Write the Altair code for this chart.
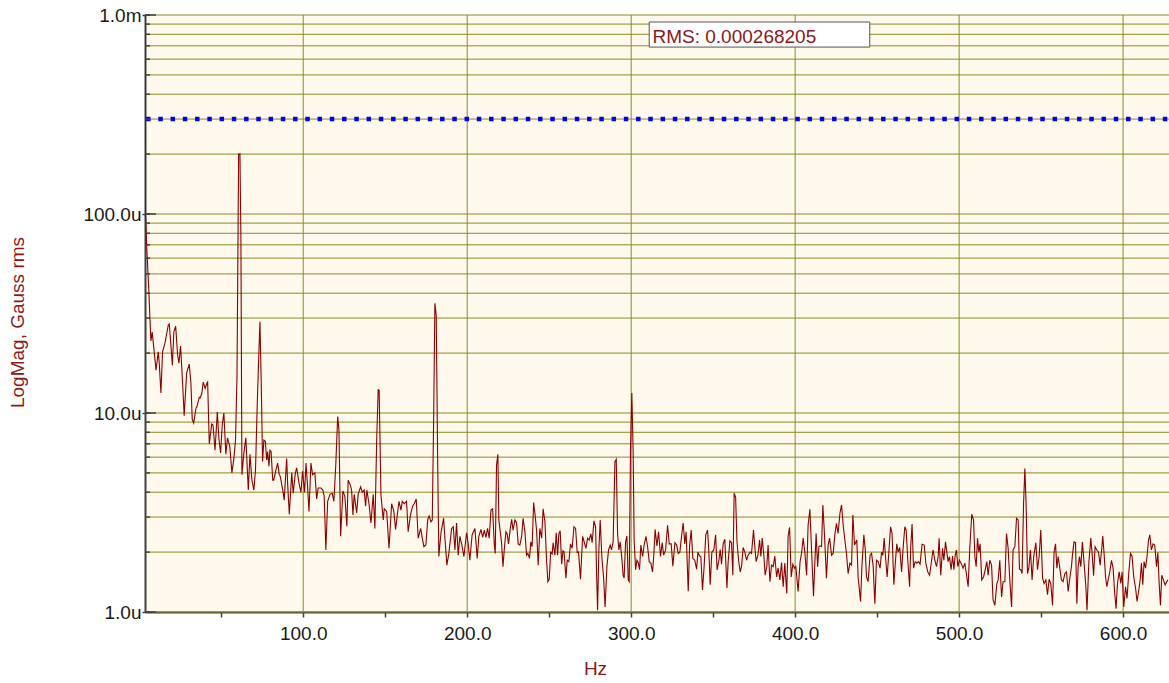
import altair as alt
import pandas as pd

# Magnetic field spectrum, in bands: frequency (Hz) and magnitude (micro-gauss rms)
band1_hz = [3.0, 3.7, 4.5, 5.9, 6.5, 7.1, 7.9, 9.6, 10.2, 11.6, 12.2, 13.2, 14.2, 15.7, 17.7, 18.3,
            20.2, 21.1, 22.2, 23.4, 24.2, 25.2, 26.2, 27.4, 28.9, 30.5, 31.5, 32.3, 33.2, 34.6, 35.1,
            36.6, 37.2, 38.2, 39.0, 40.2, 41.2, 41.7, 42.7, 44.2, 45.0, 46.2, 47.6, 48.6, 49.6, 50.6,
            51.6, 52.8, 53.8, 55.2, 56.5, 57.7, 58.7, 59.6, 60.6, 61.4, 62.0, 62.6, 63.8, 65.0, 66.5,
            67.5, 68.7, 69.9, 70.9, 71.9, 72.8, 73.6, 74.4, 75.2, 76.0, 76.9, 77.7, 78.3, 79.1, 79.7,
            80.4, 81.4, 82.0, 83.4, 84.4, 85.4, 86.0, 87.5, 88.4, 89.9, 90.5, 91.5, 93.0, 93.9, 95.2,
            96.0, 97.6, 98.6, 99.6, 100.8, 101.7, 102.7, 103.5, 104.7, 105.7]
band1_ug = [5000, 105, 70, 40, 30, 23, 25.5, 18.5, 16.4, 20.3, 17.8, 12.6, 20.3, 22.5, 27.7, 28,
            17.4, 25.6, 27.3, 19.5, 17.8, 21.7, 15.3, 9.7, 15.9, 17.6, 14.1, 9.3, 8.9, 10.6, 10.7,
            12.0, 11.9, 12.6, 14.3, 13.3, 14.1, 14.3, 7.0, 8.8, 8.7, 6.5, 10.1, 7.4, 6.3, 8.7,
            10.0, 6.2, 7.5, 6.8, 5.0, 5.9, 7.3, 15.2, 200, 201, 74, 4.9, 6.3, 7.5, 4.1,
            6.2, 4.6, 4.1, 5.2, 10.7, 18.4, 28.7, 14.0, 5.7, 7.3, 7.2, 5.8, 6.4, 5.4, 6.5,
            6.4, 4.6, 4.6, 5.2, 5.6, 4.9, 4.8, 4.1, 3.65, 5.9, 4.4, 3.1, 5.0, 3.95, 5.0,
            5.3, 4.35, 4.0, 5.1, 4.0, 5.6, 4.2, 3.2, 5.6, 4.9]

band2_hz = [107.1, 108.2, 109.1, 110.8, 112.0, 112.8, 113.8, 114.9, 116.3, 117.7, 118.7, 119.9, 121.0,
            121.8, 122.8, 124.2, 125.4, 126.6, 127.4, 128.7, 129.5, 130.3, 131.1, 132.6, 133.5, 135.0,
            136.0, 137.2, 138.0, 138.8, 140.1, 141.3, 142.7, 143.7, 144.8, 145.7, 146.3, 147.4, 148.8,
            149.4, 150.9, 152.3, 153.9, 155.3, 156.3, 157.3, 158.4, 159.6, 160.4, 161.6, 163.0, 164.0,
            165.5, 166.7, 167.7, 168.9, 170.1, 171.6, 172.4, 173.6, 174.8, 175.9, 176.8, 177.9, 178.7,
            179.5, 180.3, 181.1, 182.0, 182.7, 184.0, 185.6, 186.4, 187.6, 188.8, 190.5, 191.5, 192.5,
            193.5, 194.5, 195.5, 196.6, 198.0, 199.6, 200.6, 201.6, 203.0, 204.7, 206.1, 207.1, 208.4,
            209.4, 210.4, 211.4, 212.4, 213.4, 214.5, 215.5, 216.5]
band2_ug = [5.0, 3.7, 4.2, 4.2, 4.1, 3.8, 2.05, 3.6, 3.9, 3.95, 3.6, 5.6, 9.6,
            8.2, 2.4, 4.06, 3.8, 2.7, 4.6, 4.35, 4.1, 3.07, 3.9, 3.15, 3.9, 4.26,
            4.0, 4.1, 3.4, 4.1, 3.5, 2.8, 3.9, 2.63, 7.3, 13.1, 13.0, 3.87, 2.9,
            3.3, 3.2, 2.09, 3.5, 3.2, 2.6, 3.04, 3.6, 3.25, 3.6, 3.5, 3.6, 2.53,
            3.1, 3.4, 3.5, 3.7, 2.35, 2.63, 2.4, 2.13, 2.17, 2.9, 3.04, 2.84, 2.9,
            8.9, 35.6, 31, 5.6, 1.9, 2.5, 2.96, 2.35, 1.72, 1.97, 2.63, 2.68, 2.05,
            2.8, 1.93, 2.4, 2.2, 1.9, 2.5, 2.2, 1.82, 2.44, 2.63, 1.86, 2.4, 2.6,
            2.37, 2.58, 2.37, 2.63, 2.35, 3.25, 3.3, 2.2]

band3_hz = [217.1, 217.9, 218.7, 219.3, 220.4, 221.0, 221.8, 222.6, 223.6, 224.4, 225.2, 226.2, 227.1,
            228.0, 229.1, 230.1, 231.1, 232.1, 233.2, 234.1, 235.2, 236.2, 237.0, 238.0, 238.8, 239.6,
            240.5, 241.3, 242.3, 243.3, 244.3, 245.4, 246.3, 247.4, 248.4, 249.2, 250.0, 250.9, 251.8,
            252.4, 253.5, 254.3, 255.1, 255.9, 256.7, 257.6, 258.4, 259.1, 260.2, 261.0, 262.0, 263.0,
            264.0, 265.1, 266.1, 267.1, 267.9, 269.1, 270.4, 271.3, 272.4, 273.4, 274.4, 275.4, 276.2,
            277.3, 278.3, 278.9, 279.5, 280.3, 281.1, 282.1, 283.2, 284.1, 285.2, 286.2, 287.2, 288.0,
            289.0, 290.1, 290.9, 291.7, 292.5, 293.3, 294.3, 295.1, 295.7, 296.6, 297.4, 298.2, 298.8,
            299.6, 300.4, 301.2, 301.8, 302.7, 303.5, 304.3, 305.1, 305.9, 307.0, 307.9, 309.0, 310.0,
            311.0, 312.0, 313.0, 313.8, 314.6, 315.7, 316.7, 317.9, 318.9, 319.8, 321.0, 322.2, 323.2]
band3_ug = [1.97, 5.5, 6.2, 2.9, 2.44, 2.2, 1.69, 2.05, 2.53, 2.47, 2.2, 2.6, 2.92,
            2.58, 2.9, 2.8, 2.2, 2.17, 2.4, 2.96, 2.53, 1.93, 1.97, 1.86, 2.25, 2.13,
            3.55, 3.13, 2.58, 1.72, 2.63, 2.35, 3.3, 2.84, 1.82, 1.42, 1.46, 2.0, 1.96,
            2.23, 1.93, 2.5, 1.93, 2.47, 2.56, 1.74, 2.03, 2.0, 1.48, 1.82, 1.79, 2.2,
            2.09, 2.68, 2.63, 1.99, 2.0, 1.46, 2.4, 2.25, 2.09, 2.35, 2.3, 2.47, 2.23,
            2.87, 2.68, 1.56, 1.02, 2.05, 2.9, 1.9, 1.48, 1.06, 1.69, 2.05, 2.17, 2.05,
            2.25, 5.7, 5.85, 2.47, 2.05, 2.25, 1.86, 1.53, 1.48, 2.25, 2.41, 1.45, 1.42,
            6.6, 12.6, 6.4, 2.3, 1.63, 1.82, 1.77, 1.63, 2.17, 1.9, 2.17, 2.4, 2.13,
            1.79, 1.76, 1.59, 1.93, 2.6, 2.15, 2.53, 1.9, 2.23, 1.93, 2.05, 2.73, 2.2]

band4_hz = [324.4, 325.4, 326.7, 327.7, 328.7, 329.7, 330.7, 331.7, 332.7, 333.5, 334.8, 335.6, 336.6,
            337.6, 338.8, 339.9, 340.7, 341.7, 342.5, 343.5, 344.5, 345.5, 346.6, 347.4, 348.2, 349.2,
            350.4, 351.5, 352.4, 353.5, 354.3, 355.1, 356.1, 357.1, 358.4, 359.1, 360.2, 361.2, 362.0,
            362.8, 363.7, 364.5, 365.5, 366.5, 367.3, 368.3, 369.3, 370.4, 371.3, 372.6, 373.4, 374.6,
            375.4, 376.2, 377.3, 378.3, 379.1, 379.9, 380.9, 381.7, 382.7, 383.5, 384.6, 385.6, 386.6,
            387.6, 388.7, 389.6, 390.7, 391.7, 392.7, 393.7, 394.9, 395.7, 396.6, 397.6, 398.6, 399.6,
            400.4, 401.8, 403.0, 403.9, 404.9, 405.9, 407.0, 407.9, 409.0, 410.0, 411.2, 412.0, 412.8,
            413.7, 414.5, 415.2, 416.1, 416.9, 417.9, 419.1, 420.1, 421.0, 422.2, 423.2, 424.2, 425.2,
            426.2, 427.3, 428.3, 429.3, 430.3]
band4_ug = [2.2, 1.7, 2.23, 2.17, 1.97, 2.0, 2.4, 2.8, 2.2, 2.53, 1.27, 2.13, 2.58,
            1.86, 1.82, 1.64, 2.0, 1.91, 1.9, 1.29, 1.7, 2.44, 2.58, 1.97, 1.37, 2.0,
            2.05, 2.44, 1.63, 1.82, 2.06, 1.74, 2.2, 2.32, 1.32, 1.76, 2.28, 2.23, 1.53,
            3.95, 3.77, 2.28, 1.82, 1.59, 1.69, 2.11, 2.0, 1.82, 1.93, 2.0, 1.97, 2.58,
            2.13, 1.79, 1.93, 2.3, 1.9, 2.35, 1.93, 1.53, 1.69, 2.17, 1.42, 1.72, 1.69,
            1.91, 1.5, 1.66, 1.45, 1.77, 1.34, 1.76, 1.24, 2.4, 2.66, 1.5, 1.74, 1.66,
            1.69, 1.27, 1.79, 1.97, 2.35, 2.0, 1.53, 2.73, 3.28, 2.05, 1.2, 1.76, 2.48,
            1.69, 2.13, 2.15, 2.13, 3.45, 2.44, 1.48, 2.17, 2.35, 1.93, 1.97, 2.44, 2.79,
            2.48, 3.13, 3.45, 2.73, 2.3]

band5_hz = [431.3, 432.3, 433.4, 434.4, 435.2, 436.2, 437.6, 438.4, 439.9, 440.7, 441.9, 442.7, 443.5,
            444.5, 445.7, 446.6, 447.6, 448.6, 449.6, 450.6, 451.8, 452.7, 453.5, 454.3, 455.1, 456.1,
            457.1, 458.2, 459.1, 460.2, 461.2, 462.0, 462.8, 463.8, 464.9, 465.9, 466.9, 467.7, 468.7,
            469.8, 470.5, 471.3, 472.2, 473.2, 474.2, 475.2, 476.2, 477.4, 478.7, 479.7, 480.9, 482.0,
            483.2, 484.1, 485.2, 486.2, 487.2, 487.8, 488.8, 489.9, 490.7, 491.7, 492.5, 493.3, 494.1,
            495.1, 496.0, 496.8, 497.6, 498.4, 499.2, 500.2, 501.2, 502.4, 503.5, 504.7, 505.5, 506.5,
            507.7, 508.8, 509.6, 510.4, 511.2, 512.0, 512.8, 513.8, 514.9, 515.9, 516.9, 517.7, 518.7,
            519.8, 520.7, 521.8, 523.0, 523.8, 524.8, 525.9, 526.8, 527.9, 528.9, 529.9, 530.9, 532.0,
            532.9, 534.0]
band5_ug = [1.97, 1.56, 1.76, 1.72, 3.07, 2.17, 2.3, 1.5, 1.13, 1.69, 2.44, 2.09, 1.5,
            1.42, 1.93, 1.97, 1.69, 1.1, 1.82, 1.79, 1.66, 2.0, 1.93, 2.35, 1.9, 1.5,
            1.97, 2.68, 2.48, 1.37, 1.82, 2.2, 2.0, 2.11, 1.59, 2.13, 2.68, 2.58, 1.82,
            1.34, 2.13, 2.77, 1.66, 1.79, 1.76, 1.79, 1.74, 2.19, 2.17, 1.76, 1.59, 1.53,
            1.82, 2.05, 1.82, 1.69, 1.9, 2.35, 1.53, 2.09, 1.82, 2.25, 2.0, 1.79, 1.9,
            1.63, 1.91, 1.63, 1.93, 2.05, 1.69, 1.82, 1.76, 1.66, 1.76, 1.5, 1.34, 2.09,
            3.1, 2.9, 1.9, 1.69, 2.35, 2.0, 2.2, 1.45, 1.5, 1.63, 1.79, 1.53, 1.82,
            1.72, 1.15, 1.08, 1.39, 1.45, 1.82, 1.19, 1.42, 1.42, 2.48, 2.09, 1.45, 1.06,
            2.05, 2.13]

band6_hz = [535.0, 536.0, 536.8, 537.6, 538.4, 539.3, 540.1, 540.9, 541.7, 542.5, 543.5, 544.5, 545.5,
            546.8, 547.8, 548.8, 549.8, 550.9, 551.8, 552.9, 553.9, 554.9, 555.9, 557.0, 557.9, 558.8,
            559.6, 560.4, 561.4, 562.4, 563.4, 564.5, 565.5, 566.5, 567.5, 568.5, 569.3, 570.1, 571.0,
            571.8, 572.6, 573.4, 574.2, 575.2, 576.2, 577.3, 578.0, 579.1, 580.3, 581.1, 582.0, 582.9,
            584.0, 585.0, 586.0, 587.0, 587.6, 588.4, 589.3, 590.1, 590.9, 591.9, 592.9, 593.9, 594.9,
            595.7, 596.6, 597.6, 598.6, 599.4, 600.4, 601.5, 602.4, 603.5, 604.5, 605.5, 606.5, 607.6,
            608.5, 609.6, 610.4, 611.2, 612.0, 612.8, 613.7, 614.6, 615.5, 616.3, 617.3, 618.3, 619.3,
            620.4, 621.2, 622.0, 622.8, 623.6, 624.6, 625.6, 627.3]
band6_ug = [2.96, 2.9, 1.64, 1.63, 1.56, 3.5, 5.26, 3.38, 1.56, 1.66, 2.05, 1.45, 1.9,
            2.23, 1.63, 1.9, 2.58, 1.48, 1.39, 1.45, 1.22, 1.46, 1.39, 1.08, 2.0, 2.2,
            1.66, 1.9, 1.66, 1.45, 1.42, 1.56, 1.59, 1.27, 1.48, 1.69, 2.0, 2.25, 2.23,
            1.1, 1.69, 1.9, 1.69, 2.25, 1.76, 1.34, 1.02, 1.76, 2.35, 1.97, 1.52, 2.13,
            2.05, 2.0, 1.72, 2.09, 2.41, 1.97, 1.5, 1.34, 1.45, 1.59, 1.82, 1.66, 1.24,
            1.04, 1.39, 1.59, 1.39, 1.59, 1.06, 1.34, 1.17, 1.59, 1.97, 1.9, 1.5, 1.32,
            1.13, 1.29, 1.45, 1.76, 1.37, 1.79, 1.66, 1.9, 2.3, 2.44, 2.05, 2.2, 2.17,
            1.69, 1.99, 1.39, 1.08, 1.53, 1.45, 1.37, 1.45]

bands = [(band1_hz, band1_ug), (band2_hz, band2_ug), (band3_hz, band3_ug),
         (band4_hz, band4_ug), (band5_hz, band5_ug), (band6_hz, band6_ug)]

alarm_level = 300e-6          # gauss rms
rms_label = "RMS: 0.000268205"
rms_box_hz = [311.0, 445.5]
rms_box_gauss = [690e-6, 922e-6]
rms_text_hz = 313.0
rms_text_gauss = 772e-6

x_major = [100, 200, 300, 400, 500, 600]
x_ticks = list(range(50, 601, 50))
y_decades = [1e-6, 1e-5, 1e-4, 1e-3]
y_grid = [k * d for d in [1e-6, 1e-5, 1e-4] for k in range(1, 10)] + [1e-3]

FONT = "Liberation Sans"
DARK_RED = "#8B1A1A"
OLIVE = "#8C8C1C"
AXIS_GREY = "#404040"

spectrum = pd.DataFrame({
    "hz": [f for fs, _ in bands for f in fs],
    "gauss": [m * 1e-6 for _, ms in bands for m in ms],
})

x_scale = alt.Scale(domain=[3.5, 628], nice=False, zero=False)
y_scale = alt.Scale(type="log", domain=[1e-6, 1e-3], nice=False)

x_axis = alt.Axis(
    values=x_ticks,
    labelExpr="datum.value % 100 == 0 ? format(datum.value, '.1f') : ''",
    grid=False, tickSize=5, tickColor=AXIS_GREY, tickWidth=1.5,
    domainColor=AXIS_GREY, domainWidth=2,
    labelFont=FONT, labelFontSize=19, labelColor="#1a1a1a", labelPadding=7,
    labelFlush=False, labelOverlap=False,
    title="Hz", titleFont=FONT, titleFontSize=19, titleFontWeight="normal",
    titleColor=DARK_RED, titleX=450, titleY=56, titleAlign="center", titleBaseline="middle",
)
y_axis = alt.Axis(
    values=y_decades,
    labelExpr="datum.value >= 0.00099 ? '1.0m' : format(datum.value * 1e6, '.1f') + 'u'",
    grid=False, tickSize=3, tickColor=AXIS_GREY, tickWidth=1.5,
    domainColor=AXIS_GREY, domainWidth=2,
    labelFont=FONT, labelFontSize=19, labelColor="#1a1a1a", labelPadding=1,
    labelFlush=False, labelOverlap=False,
    title="LogMag, Gauss rms", titleFont=FONT, titleFontSize=19, titleFontWeight="normal",
    titleColor=DARK_RED, titleX=-127.5, titleY=307, titleAngle=270,
    titleAlign="center", titleBaseline="middle",
)

X = lambda field: alt.X(field, scale=x_scale, axis=x_axis)
Y = lambda field: alt.Y(field, scale=y_scale, axis=y_axis)

h_grid = alt.Chart(pd.DataFrame({"gauss": y_grid})).mark_rule(
    color=OLIVE, strokeWidth=1
).encode(y=Y("gauss:Q"))

v_grid = alt.Chart(pd.DataFrame({"hz": x_major})).mark_rule(
    color=OLIVE, strokeWidth=1
).encode(x=X("hz:Q"))

alarm = alt.Chart(pd.DataFrame({"gauss": [alarm_level]})).mark_rule(
    color="#0000FF", strokeWidth=4.5, strokeDash=[4.5, 7.75], strokeDashOffset=10.55,
    strokeCap="butt"
).encode(y=Y("gauss:Q"))

trace = alt.Chart(spectrum).mark_line(
    color="#8B0000", strokeWidth=1.1, clip=True
).encode(
    x=X("hz:Q"),
    y=Y("gauss:Q"),
    order="hz:Q",
)

# short inward tick marks on the left axis
minor_ticks = alt.Chart(pd.DataFrame({"gauss": y_grid})).mark_rule(
    color=AXIS_GREY, strokeWidth=1.5
).encode(y=Y("gauss:Q"), x=alt.value(0), x2=alt.value(5))

major_ticks = alt.Chart(pd.DataFrame({"gauss": y_decades})).mark_rule(
    color=AXIS_GREY, strokeWidth=1.5
).encode(y=Y("gauss:Q"), x=alt.value(0), x2=alt.value(11))

rms_box = alt.Chart(pd.DataFrame({
    "hz": [rms_box_hz[0]], "hz_end": [rms_box_hz[1]],
    "gauss": [rms_box_gauss[0]], "gauss_end": [rms_box_gauss[1]],
})).mark_rect(fill="white", stroke="#555555", strokeWidth=1).encode(
    x=X("hz:Q"), x2="hz_end:Q",
    y=Y("gauss:Q"), y2="gauss_end:Q",
)

rms_text = alt.Chart(pd.DataFrame({
    "hz": [rms_text_hz], "gauss": [rms_text_gauss], "label": [rms_label],
})).mark_text(
    align="left", baseline="middle", font=FONT, fontSize=19, color=DARK_RED
).encode(
    x=X("hz:Q"),
    y=Y("gauss:Q"),
    text="label:N",
)

chart = alt.layer(
    h_grid, v_grid, alarm, trace, minor_ticks, major_ticks, rms_box, rms_text
).properties(
    width=1024, height=597,
    padding={"left": 145, "top": 15, "right": 0, "bottom": 71},
    autosize=alt.AutoSizeParams(type="none"),
    background="white",
).configure_view(fill="#FFF8EC", strokeWidth=0)

chart.save("out.html", embed_options={"renderer": "svg", "actions": False})
